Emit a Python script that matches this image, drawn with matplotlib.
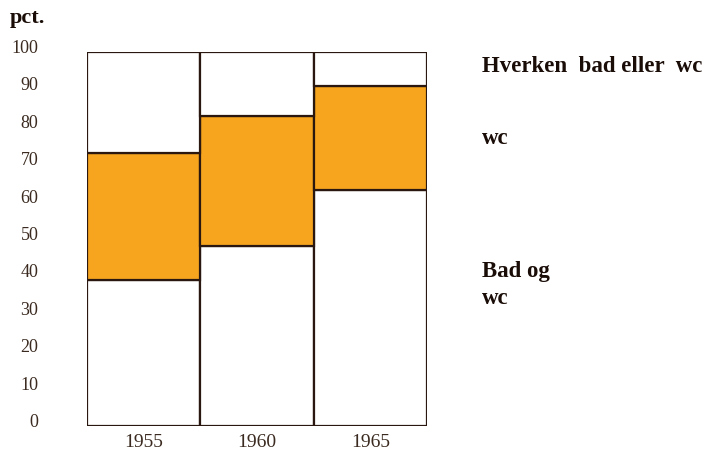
import matplotlib.pyplot as plt
from matplotlib.transforms import ScaledTranslation

years = ["1955", "1960", "1965"]
bad_og_wc = [39, 48, 63]        # pct. with bath and wc
kun_wc = [34, 35, 28]           # pct. with wc only
hverken = [27, 17, 9]           # pct. with neither
yticks = list(range(0, 101, 10))

plt.rcParams['font.family'] = ['Liberation Serif', 'DejaVu Serif']
edge = '#2a1810'
orange = '#f7a51e'

fig = plt.figure(figsize=(7.2, 4.57), dpi=100)
ax = fig.add_axes([87 / 720, 31 / 457, 340 / 720, 374 / 457])

x = range(len(years))
mid_bottom = bad_og_wc
top_bottom = [a + b for a, b in zip(bad_og_wc, kun_wc)]
kw = dict(width=1.0, edgecolor=edge, linewidth=1.6)
ax.bar(x, bad_og_wc, color='white', **kw)
ax.bar(x, kun_wc, bottom=mid_bottom, color=orange, **kw)
ax.bar(x, hverken, bottom=top_bottom, color='white', **kw)

ax.set_xlim(-0.5, 2.5)
ax.set_ylim(0, 100)
for s in ax.spines.values():
    s.set_visible(False)

ax.set_yticks(yticks)
ax.set_yticklabels([str(v) for v in yticks], fontsize=13, color='#3a2a20')
ax.tick_params(axis='y', length=0, pad=35)
shift = ScaledTranslation(0, 4 / 72, fig.dpi_scale_trans)
for lab in ax.get_yticklabels():
    lab.set_transform(lab.get_transform() + shift)

ax.set_xticks(list(x))
ax.set_xticklabels(years, fontsize=14, color='#3a2a20')
ax.tick_params(axis='x', length=0, pad=6)

fig.text(10 / 720, 1 - 18 / 457, "pct.", fontsize=16, fontweight='bold',
         va='center', ha='left', color='#1a0d08')
for txt, yy in [("Hverken  bad eller  wc", 66), ("wc", 138),
                ("Bad og", 272), ("wc", 298)]:
    fig.text(482 / 720, 1 - yy / 457, txt, fontsize=16.5, fontweight='bold',
             va='center', ha='left', color='#1a0d08')

fig.savefig("out.png", dpi=100)
